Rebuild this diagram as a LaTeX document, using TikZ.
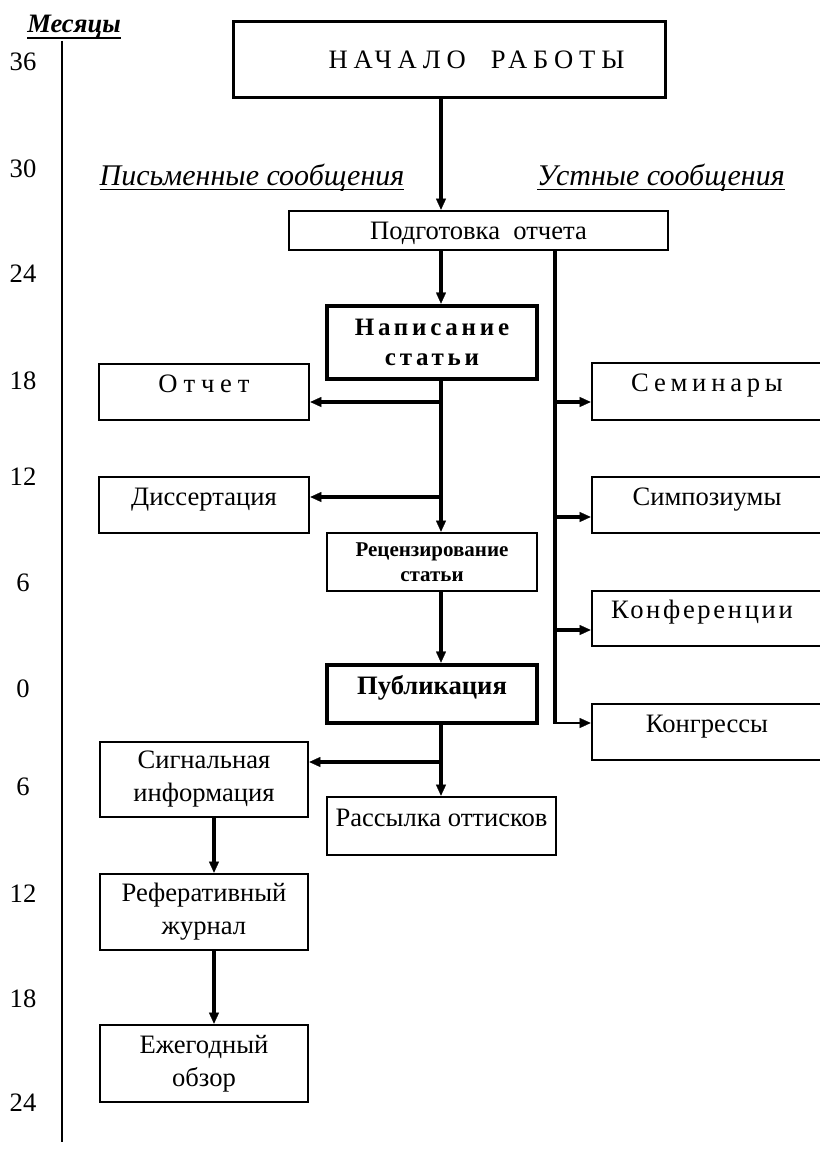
\documentclass[tikz,border=0pt]{standalone}
\usepackage{fontspec}
\setmainfont{Liberation Serif}
\usetikzlibrary{arrows.meta}
\newcommand{\basefont}{\fontsize{13.3}{16.5}\selectfont}
\newcommand{\myuline}[3]{\setbox0\hbox{#3}\rlap{\copy0}\rule[-#1]{\wd0}{#2}}
\begin{document}
\begin{tikzpicture}[x=0.5pt,y=-0.5pt,
  box/.style={draw, rectangle, line width=1.3pt, align=center, inner sep=0pt, font=\basefont},
  heavybox/.style={box, line width=2.4pt},
  sz/.style 2 args={minimum width=#1*0.5pt, minimum height=#2*0.5pt},
  oneline/.style={text height=9pt, text depth=9pt},
  midline/.style={text height=9pt, text depth=0pt},
  num/.style={anchor=base, inner sep=0pt, font=\basefont},
  lbl/.style={anchor=base, inner sep=0pt, font=\fontsize{15}{17}\selectfont\itshape},
  arr/.style={line width=2.2pt, -{Triangle[length=5.5pt,width=5pt,line width=0.1pt]}},
  thinarr/.style={line width=1pt, -{Triangle[length=5.5pt,width=5pt,line width=0.1pt]}},
  trunk/.style={line width=2.2pt},
  axis/.style={line width=0.6pt}
]
\useasboundingbox (0,0) rectangle (819,1156);

% months axis
\node[anchor=base, inner sep=0pt, font=\basefont\bfseries\itshape] (mes) at (74,33)
  {\myuline{3pt}{1.2pt}{Месяцы}};
\coordinate (axtop) at (62,41);
\coordinate (axbot) at (62,1142);
\draw[axis] (axtop) -- (axbot);
\node[num] (n1)  at (23,71)   {36};
\node[num] (n2)  at (23,177)  {30};
\node[num] (n3)  at (23,282)  {24};
\node[num] (n4)  at (23,389)  {18};
\node[num] (n5)  at (23,485)  {12};
\node[num] (n6)  at (23,591)  {6};
\node[num] (n7)  at (23,697)  {0};
\node[num] (n8)  at (23,795)  {6};
\node[num] (n9)  at (23,902)  {12};
\node[num] (n10) at (23,1007) {18};
\node[num] (n11) at (23,1111) {24};

% column labels
\node[lbl] (lw) at (252,185) {\myuline{2.6pt}{0.8pt}{Письменные сообщения}};
\node[lbl] (lo) at (661,185) {\myuline{2.6pt}{0.8pt}{Устные сообщения}};

% boxes
\node[box, line width=1.5pt, sz={432}{76}, midline,
  font=\basefont\addfontfeatures{LetterSpace=22}] (start) at (449,60) {\hspace*{27.5pt}НАЧАЛО\ \ РАБОТЫ};
\node[box, sz={379}{39}, midline] (prep) at (478.5,230.5) {Подготовка\ \ отчета};
\node[heavybox, sz={210}{73},
  font=\fontsize{12.5}{15}\selectfont\bfseries\addfontfeatures{LetterSpace=15}] (write) at (432,342.5) {Написание\\статьи};
\node[box, sz={210}{56}, oneline, font=\basefont\addfontfeatures{LetterSpace=22}] (report) at (204,392) {Отчет};
\node[box, sz={210}{56}, oneline] (diss) at (204,505) {Диссертация};
\node[box, sz={210}{58}, font=\fontsize{10.5}{12.5}\selectfont\bfseries] (review) at (432,562) {Рецензирование\\статьи};
\node[heavybox, sz={210}{58}, oneline, font=\fontsize{13.3}{16.5}\selectfont\bfseries] (pub) at (432,694) {Публикация};
\node[box, sz={208}{75}] (signal) at (204,779.5) {Сигнальная\\информация};
\node[box, sz={229}{58}, oneline] (mail) at (441.5,826) {Рассылка оттисков};
\node[box, sz={208}{76}] (abstr) at (204,912) {Реферативный\\журнал};
\node[box, sz={208}{77}] (annual) at (204,1063.5) {Ежегодный\\обзор};

\node[box, sz={230}{57}, oneline, font=\basefont\addfontfeatures{LetterSpace=18}] (sem) at (707,391.5) {Семинары};
\node[box, sz={230}{56}, oneline] (sym) at (707,505) {Симпозиумы};
\node[box, sz={230}{55}, oneline, font=\basefont\addfontfeatures{LetterSpace=10}] (conf) at (707,618.5) {\hspace*{-5pt}Конференции};
\node[box, sz={230}{56}, oneline] (cong) at (707,732) {Конгрессы};

% guide coordinates
\coordinate (mx) at (441,0);
\coordinate (rx) at (555,0);
\coordinate (sx) at (214,0);
\coordinate (j1) at (441,402);
\coordinate (j2) at (441,497);
\coordinate (j3) at (441,762);
\coordinate (r1) at (555,402);
\coordinate (r2) at (555,517);
\coordinate (r3) at (555,630);
\coordinate (r4) at (555,723);

% main flow
\draw[arr] (start.south -| mx) -- (prep.north -| mx);
\draw[arr] (prep.south -| mx) -- (write.north -| mx);
\draw[arr] (write.south -| mx) -- (review.north -| mx);
\draw[arr] (j1) -- (j1 -| report.east);
\draw[arr] (j2) -- (j2 -| diss.east);
\draw[arr] (review.south -| mx) -- (pub.north -| mx);
\draw[arr] (pub.south -| mx) -- (mail.north -| mx);
\draw[arr] (j3) -- (j3 -| signal.east);
\draw[arr] (signal.south -| sx) -- (abstr.north -| sx);
\draw[arr] (abstr.south -| sx) -- (annual.north -| sx);

% oral branch
\draw[trunk] (prep.south -| rx) -- ([yshift=-0.5pt]r4);
\draw[arr] (r1) -- (r1 -| sem.west);
\draw[arr] (r2) -- (r2 -| sym.west);
\draw[arr] (r3) -- (r3 -| conf.west);
\draw[thinarr] ([xshift=-1.1pt]r4) -- (r4 -| cong.west);
\end{tikzpicture}
\end{document}
